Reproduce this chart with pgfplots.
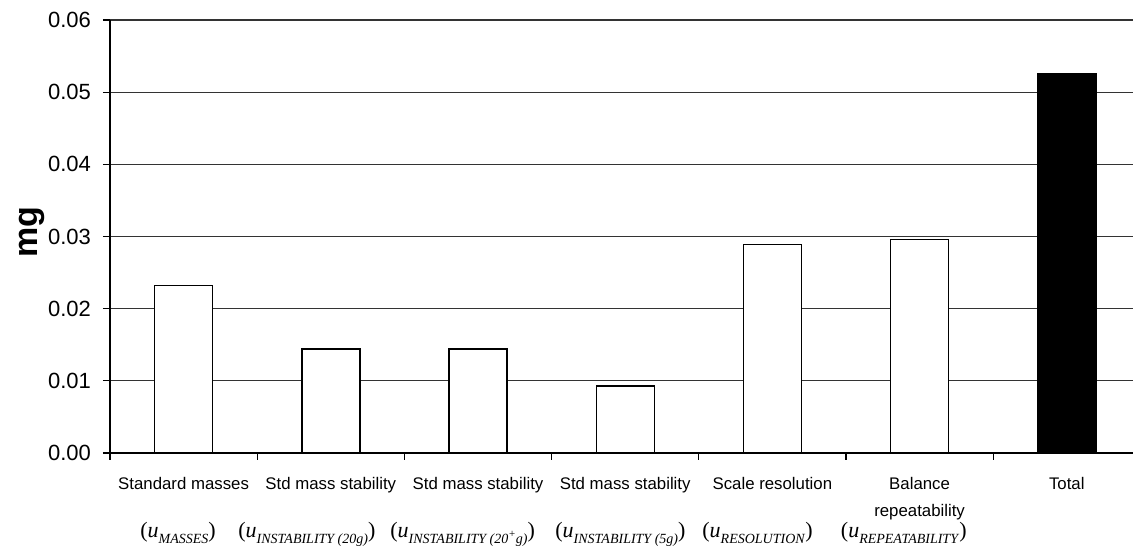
\documentclass[border=0pt]{standalone}
\usepackage{fontspec}
\setmainfont{Liberation Sans}
\newfontfamily\tnr{Liberation Serif}
\usepackage{pgfplots}
\pgfplotsset{compat=1.18}
\newcommand{\ulab}[1]{{\tnr\fontsize{11}{12}\selectfont(\textit{u}\raisebox{-3pt}{\fontsize{7}{7}\selectfont\textit{#1}})}}
\begin{document}
\begin{tikzpicture}
\useasboundingbox (-55pt,-48pt) rectangle (511.5pt,226.5pt);
\begin{axis}[
  scale only axis, width=515.2pt, height=216.5pt,
  xmin=-0.5, xmax=6.5, ymin=0, ymax=0.06,
  axis x line*=bottom, axis y line*=left,
  axis line style={line width=0.7pt, black},
  ytick={0,0.01,0.02,0.03,0.04,0.05,0.06},
  scaled y ticks=false,
  /pgf/number format/fixed,
  /pgf/number format/fixed zerofill,
  /pgf/number format/precision=2,
  /pgf/number format/assume math mode=true,
  yticklabel style={font=\fontsize{11}{12}\selectfont, xshift=-2.5pt},
  xtick={-0.5,0.5,1.5,2.5,3.5,4.5,5.5,6.5},
  x tick label as interval,
  xticklabels={Standard masses, Std mass stability, Std mass stability, Std mass stability, Scale resolution, {Balance\\repeatability}, Total},
  xticklabel style={font=\fontsize{8.4}{13.5}\selectfont, align=center, yshift=-5pt},
  tick align=outside, major tick length=3.5pt,
  tick style={black, line width=0.6pt},
  ymajorgrids, grid style={line width=0.55pt, black!80},
  ylabel={mg},
  ylabel style={font=\fontsize{17}{18}\selectfont\bfseries, at={([xshift=-29pt]rel axis cs:0,0.51)}, anchor=south},
  clip=false,
]
\addplot[ybar, bar width=0.394, bar shift=0pt, fill=white, draw=black, line width=0.7pt]
  coordinates {(0,0.0232) (1,0.0144) (2,0.0144) (3,0.0093) (4,0.0289) (5,0.0296)};
\addplot[ybar, bar width=0.394, bar shift=0pt, fill=black, draw=black, line width=0.7pt]
  coordinates {(6,0.0526)};
\node[anchor=base west, inner sep=0] at ([xshift=15pt,yshift=-42.5pt]rel axis cs:0,0) {\ulab{MASSES}};
\node[anchor=base west, inner sep=0] at ([xshift=64pt,yshift=-42.5pt]rel axis cs:0,0) {\ulab{INSTABILITY (20g)}};
\node[anchor=base west, inner sep=0] at ([xshift=140pt,yshift=-42.5pt]rel axis cs:0,0) {\ulab{INSTABILITY (20\raisebox{3pt}{\fontsize{5.5}{5.5}\selectfont+}g)}};
\node[anchor=base west, inner sep=0] at ([xshift=222.5pt,yshift=-42.5pt]rel axis cs:0,0) {\ulab{INSTABILITY (5g)}};
\node[anchor=base west, inner sep=0] at ([xshift=296pt,yshift=-42.5pt]rel axis cs:0,0) {\ulab{RESOLUTION}};
\node[anchor=base east, inner sep=0] at ([xshift=428.5pt,yshift=-42.5pt]rel axis cs:0,0) {\ulab{REPEATABILITY}};
\end{axis}
\end{tikzpicture}
\end{document}
